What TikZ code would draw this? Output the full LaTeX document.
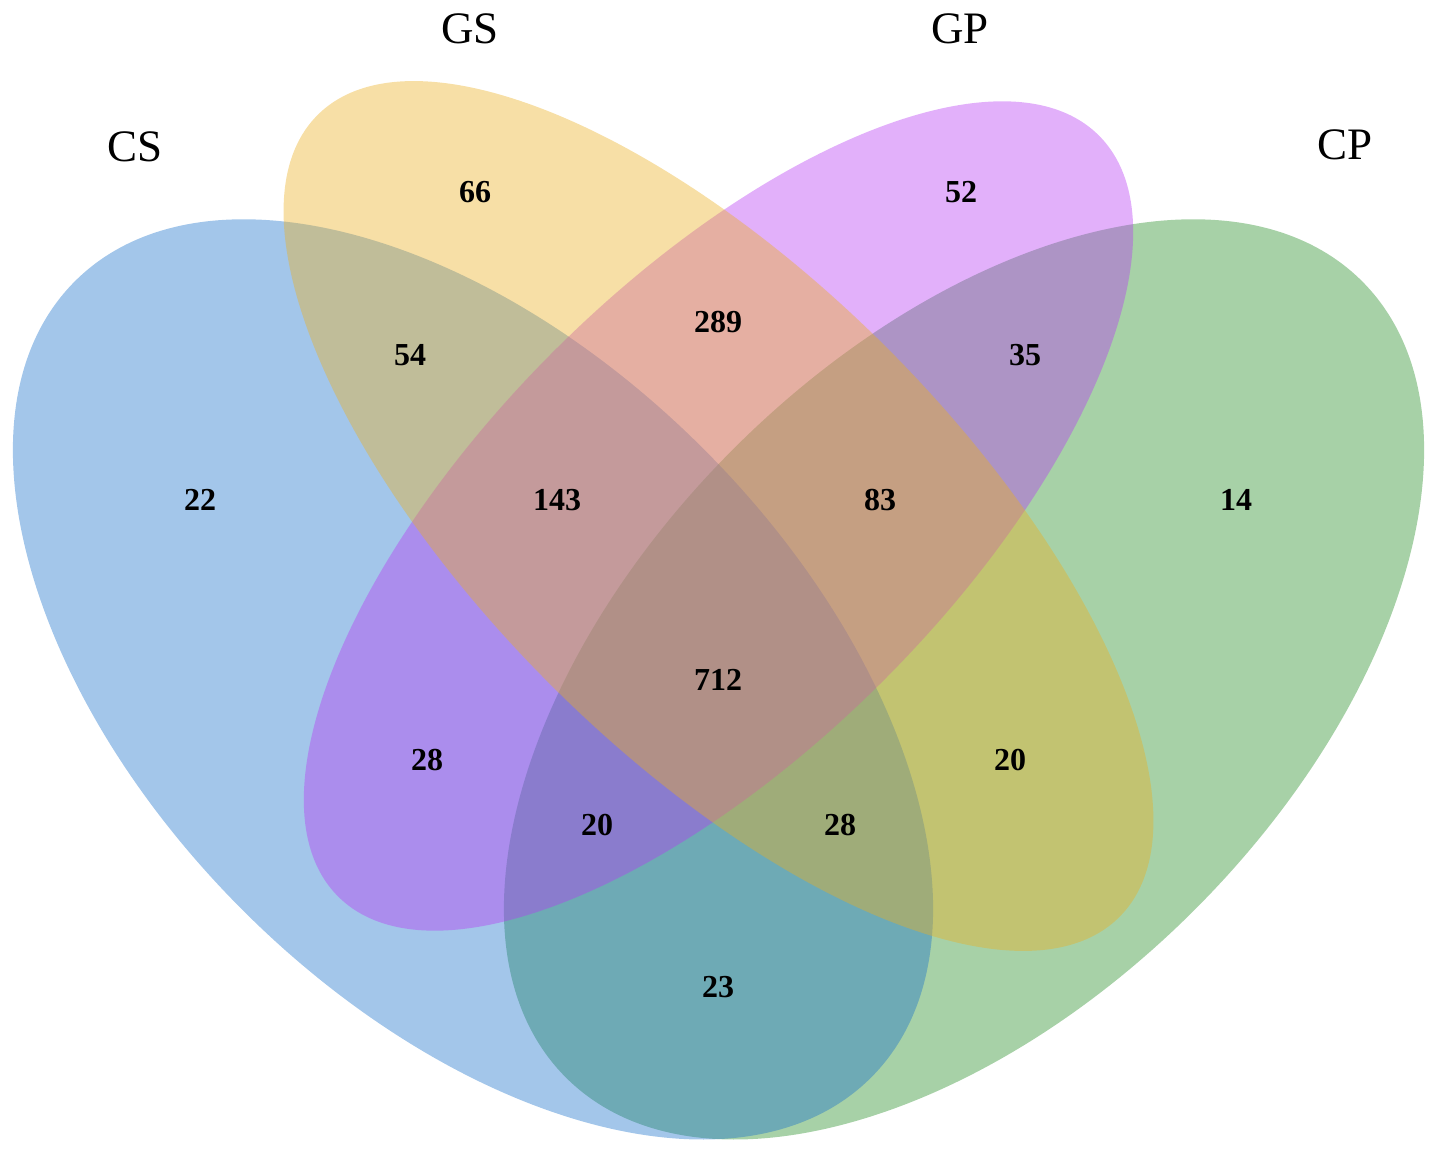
\documentclass[tikz,border=0pt]{standalone}
\usepackage{fontspec}
\setmainfont{Liberation Serif}
\definecolor{cBlue}{RGB}{25,112,202}
\definecolor{cYellow}{RGB}{235,175,32}
\definecolor{cPurple}{RGB}{182,57,242}
\definecolor{cGreen}{RGB}{35,140,35}
\begin{document}
\begin{tikzpicture}[x=1pt,y=1pt,
  setlabel/.style={font=\fontsize{45}{50}\selectfont, text=black, inner sep=0pt},
  count/.style={font=\fontsize{32}{36}\selectfont\bfseries, text=black, inner sep=0pt},
  venn/.style={fill opacity=0.4, draw=none}]
\useasboundingbox (0,0) rectangle (1441,1152);
% ellipses (drawing order: CP, CS, GP, GS)
\fill[venn, cGreen, rotate around={45:(964,472.6)}] (964,472.6) ellipse [x radius=563pt, y radius=326pt];
\fill[venn, cBlue, rotate around={-45:(473,472.6)}] (473,472.6) ellipse [x radius=563pt, y radius=326pt];
\fill[venn, cPurple, rotate around={45:(718.5,636)}] (718.5,636) ellipse [x radius=538pt, y radius=233pt];
\fill[venn, cYellow, rotate around={-45:(718.5,636)}] (718.5,636) ellipse [x radius=567pt, y radius=238pt];
% set labels
\node[setlabel] (lCS) at (135,1005) {CS};
\node[setlabel] (lGS) at (470,1123) {GS};
\node[setlabel] (lGP) at (960,1123) {GP};
\node[setlabel] (lCP) at (1345,1007) {CP};
% counts
\node[count] (n66) at (475,960) {66};
\node[count] (n52) at (961,960) {52};
\node[count] (n289) at (718,830) {289};
\node[count] (n54) at (410,797) {54};
\node[count] (n35) at (1025,797) {35};
\node[count] (n22) at (200,652) {22};
\node[count] (n143) at (557,652) {143};
\node[count] (n83) at (880,652) {83};
\node[count] (n14) at (1236,652) {14};
\node[count] (n712) at (718,472) {712};
\node[count] (n28a) at (427,392) {28};
\node[count] (n20a) at (1010,392) {20};
\node[count] (n20b) at (597,327) {20};
\node[count] (n28b) at (840,327) {28};
\node[count] (n23) at (718,165) {23};
\end{tikzpicture}
\end{document}
